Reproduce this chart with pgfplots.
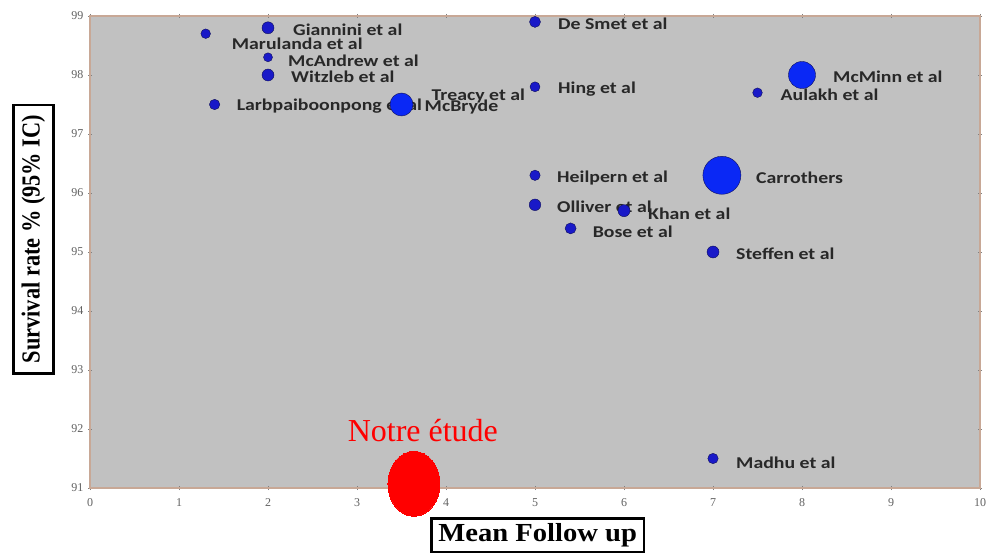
\documentclass[border=0pt]{standalone}
\usepackage{pgfplots}
\pgfplotsset{compat=1.18}
\usepackage{pgfplotstable}
\usepackage{fontspec}
\setmainfont{Liberation Serif}
\newfontfamily\lab[FakeStretch=1.2]{Carlito}
\newfontfamily\xlab[FakeStretch=1.1]{Liberation Serif}
\newfontfamily\ylab[FakeStretch=0.86]{Liberation Serif}
\definecolor{plotgray}{RGB}{193,193,193}
\definecolor{frame}{RGB}{200,168,150}
\definecolor{dotfill}{RGB}{25,25,200}
\definecolor{dotedge}{RGB}{15,15,90}
\definecolor{bigfill}{RGB}{10,40,245}
\definecolor{labtxt}{RGB}{40,40,40}

\pgfplotstableread[col sep=comma]{
x,y,dx,dy,label
2,98.8,25,-2,Giannini et al
1.3,98.7,26,-10,Marulanda et al
2,98.3,20,-3,McAndrew et al
2,98.0,23,-2,Witzleb et al
1.4,97.5,22,-2,Larbpaiboonpong et al
3.5,97.55,30,6,Treacy et al
3.5,97.5,23,-3,McBryde
5,98.9,23,-2,De Smet et al
5,97.8,23,-2,Hing et al
8,98.0,31,-2,McMinn et al
7.5,97.7,23,-2,Aulakh et al
5,96.3,22,-3,Heilpern et al
7.1,96.3,34,-2,Carrothers
5,95.8,22,-2,Olliver et al
6,95.7,24,-3,Khan et al
5.4,95.4,22,-3,Bose et al
7,95.0,23,-2,Steffen et al
7,91.5,23,-4,Madhu et al
}\labels

\pgfplotstableread[col sep=comma]{
x,y,r
2,98.8,6
1.3,98.7,4.8
2,98.3,4.5
2,98.0,6
1.4,97.5,5.2
3.5,97.55,5.2
5,98.9,5.5
5,97.8,5
7.5,97.7,4.8
5,96.3,5.2
5,95.8,5.8
6,95.7,6
5.4,95.4,5.5
7,95.0,6
7,91.5,5.2
}\smalldots

\pgfplotstableread[col sep=comma]{
x,y,r
3.5,97.5,11.5
8,98.0,13.5
7.1,96.3,19
}\bigdots

\begin{document}
\begin{tikzpicture}[x=1pt,y=1pt]
\begin{axis}[
 at={(90pt,66pt)}, anchor=south west,
 scale only axis, width=890pt, height=472pt,
 xmin=0,xmax=10,ymin=91,ymax=99,
 xtick={0,...,10}, ytick={91,...,99},
 axis background/.style={fill=plotgray},
 axis line style={draw=frame, line width=2.2pt},
 tick style={draw=gray, line width=0.6pt},
 major tick length=4pt,
 tick align=center,
 /pgf/number format/assume math mode=true,
 ticklabel style={font=\fontsize{12}{14}\selectfont, text=black!62},
 xticklabel style={yshift=-5pt},
 yticklabel style={xshift=-1pt},
 clip=false,
 xlabel={Mean Follow up}, ylabel={Survival rate \% (95\% IC)},
 label style={draw=black, line width=2.6pt},
 xlabel style={font=\xlab\fontsize{26}{30}\selectfont\bfseries, inner xsep=7pt, inner ysep=5pt,
   at={(axis description cs:0.503,-0.1)}, anchor=center},
 ylabel style={font=\ylab\fontsize{26}{30}\selectfont\bfseries, inner xsep=10pt, inner ysep=8pt,
   at={(axis description cs:-0.0635,0.5275)}, anchor=center},
]
\addplot[draw=none, nodes near coords, point meta=explicit symbolic,
  visualization depends on={\thisrow{dx}\as\dxv},
  visualization depends on={\thisrow{dy}\as\dyv},
  nodes near coords style={anchor=west, inner sep=0pt, xshift=\dxv pt, yshift=\dyv pt,
    font=\lab\fontsize{16.5}{18}\selectfont\bfseries, text=labtxt}]
  table[x=x,y=y,meta=label]{\labels};
\addplot[scatter, only marks, mark=*,
  scatter/use mapped color={draw=dotedge, fill=dotfill},
  visualization depends on={\thisrow{r}\as\perpointmarksize},
  scatter/@pre marker code/.append style={/tikz/mark size=\perpointmarksize, /tikz/line width=1pt}]
  table[x=x,y=y]{\smalldots};
\addplot[scatter, only marks, mark=*,
  scatter/use mapped color={draw=dotedge, fill=bigfill},
  visualization depends on={\thisrow{r}\as\perpointmarksize},
  scatter/@pre marker code/.append style={/tikz/mark size=\perpointmarksize, /tikz/line width=1.2pt}]
  table[x=x,y=y]{\bigdots};
\addplot[only marks, mark=*, mark size=26pt, color=red, mark options={fill=red, draw=red, line width=0pt, yscale=1.25}]
  coordinates {(3.64,91.07)};
\node[text=red, font=\fontsize{32}{36}\selectfont] at (axis cs:3.74,91.98) {Notre étude};
\end{axis}
\pgfresetboundingbox
\path[use as bounding box] (0,0) rectangle (987pt,554pt);
\end{tikzpicture}
\end{document}
